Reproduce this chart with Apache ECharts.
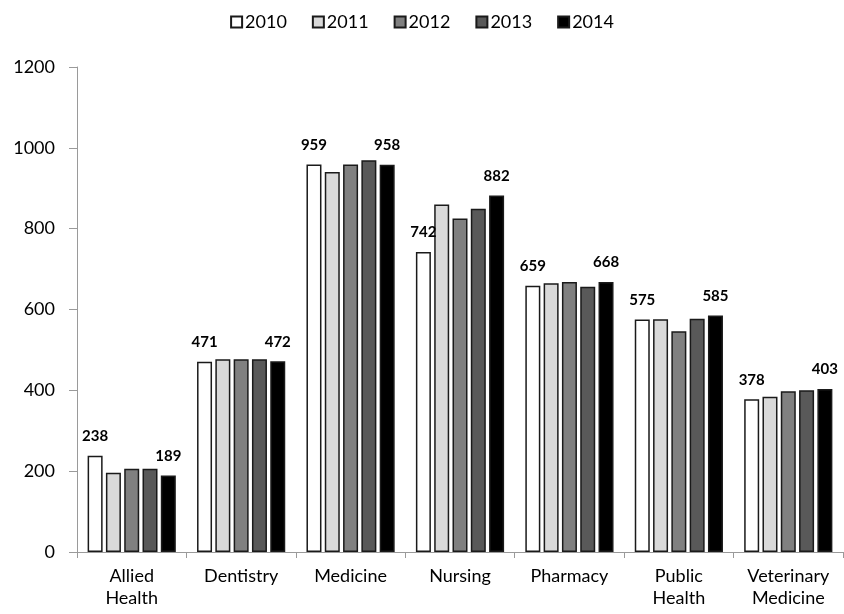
<!DOCTYPE html>
<html>
<head>
<meta charset="utf-8">
<script src="https://cdn.jsdelivr.net/npm/echarts@6/dist/echarts.min.js"></script>
<style>
  html, body { margin: 0; padding: 0; background: #fff; }
  #main { width: 844px; height: 614px; }
</style>
</head>
<body>
<div id="main"></div>
<script>
// categories and yearly values
const categories = ['Allied\nHealth', 'Dentistry', 'Medicine', 'Nursing', 'Pharmacy', 'Public\nHealth', 'Veterinary\nMedicine'];
const years = ['2010', '2011', '2012', '2013', '2014'];
const v2010 = [238, 471, 959, 742, 659, 575, 378];
const v2011 = [196, 477, 940, 860, 665, 576, 384];
const v2012 = [206, 477, 959, 825, 668, 546, 398];
const v2013 = [206, 477, 969, 849, 656, 577, 400];
const v2014 = [189, 472, 958, 882, 668, 585, 403];
const yTicks = [0, 200, 400, 600, 800, 1000, 1200];

const values = [v2010, v2011, v2012, v2013, v2014];
const fills = ['#ffffff', '#d9d9d9', '#808080', '#595959', '#000000'];
const font = 'Lato, "Open Sans", sans-serif';

let series = [];
for (let i = 0; i < years.length; i++) {
    const withLabel = (i === 0 || i === years.length - 1); // only first & last year labelled
    series.push({
        type: 'bar',
        name: years[i],
        data: values[i],
        barWidth: 15,
        barGap: '22%',
        itemStyle: {
            color: fills[i],
            borderColor: '#1a1a1a',
            borderWidth: 1.5
        },
        label: {
            show: withLabel,
            position: 'top',
            distance: 12,
            color: '#000',
            fontFamily: font,
            fontWeight: 'bold',
            fontSize: 15
        }
    });
}

let chart = echarts.init(document.getElementById('main'));
chart.setOption({
    animation: false,
    legend: {
        top: 8,
        left: 'center',
        itemWidth: 11,
        itemHeight: 11,
        itemGap: 25,
        icon: 'rect',
        textStyle: { fontFamily: font, fontSize: 18, color: '#000', padding: [0, 0, 0, -2] },
        data: years
    },
    grid: {
        left: 77,
        right: 1,
        top: 67,
        bottom: 62
    },
    xAxis: {
        type: 'category',
        data: categories,
        axisLine: { lineStyle: { color: '#9a9a9a', width: 1 } },
        axisTick: { show: true, length: 6, lineStyle: { color: '#9a9a9a' } },
        axisLabel: {
            color: '#000',
            fontFamily: font,
            fontSize: 18,
            margin: 13,
            lineHeight: 22,
            interval: 0
        }
    },
    yAxis: {
        type: 'value',
        min: yTicks[0],
        max: yTicks[yTicks.length - 1],
        interval: 200,
        axisLine: { show: true, lineStyle: { color: '#9a9a9a', width: 1 } },
        axisTick: { show: true, length: 8, lineStyle: { color: '#9a9a9a' } },
        splitLine: { show: false },
        axisLabel: {
            color: '#000',
            fontFamily: font,
            fontSize: 18,
            margin: 22,
            formatter: v => String(v)
        }
    },
    series: series
});
</script>
</body>
</html>
